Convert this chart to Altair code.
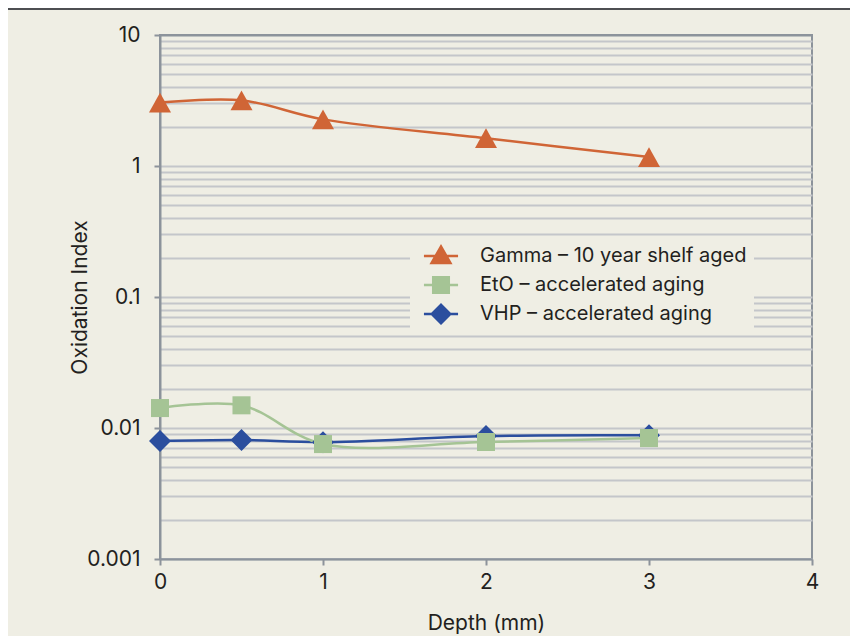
import altair as alt
import pandas as pd

depth = [0, 0.5, 1, 2, 3]
gamma = [3.05, 3.17, 2.27, 1.63, 1.17]
eto = [0.0142, 0.0149, 0.00754, 0.00782, 0.00838]
vhp = [0.00795, 0.0081, 0.0078, 0.00868, 0.0088]

series = ["Gamma – 10 year shelf aged", "EtO – accelerated aging", "VHP – accelerated aging"]
colors = ["#d06536", "#a5c495", "#2b4e9e"]

x_ticks = [0, 1, 2, 3, 4]
y_grid = [0.001, 0.002, 0.003, 0.004, 0.005, 0.006, 0.007, 0.008, 0.009,
          0.01, 0.02, 0.03, 0.04, 0.05, 0.06, 0.07, 0.08, 0.09,
          0.1, 0.2, 0.3, 0.4, 0.5, 0.6, 0.7, 0.8, 0.9,
          1, 2, 3, 4, 5, 6, 7, 8, 9, 10]

rows = []
for name, vals in [(series[2], vhp), (series[1], eto), (series[0], gamma)]:
    for d, v in zip(depth, vals):
        rows.append({"depth": d, "oi": v, "series": name})
df = pd.DataFrame(rows)

FONT = "Inter"
TEXT = "#231f20"
AXIS = "#8c939b"
GRID = "#c4c6ca"
BG = "#efeee4"

major = "abs(log(datum.value)/LN10 - round(log(datum.value)/LN10)) < 0.001"

x = alt.X("depth:Q",
          scale=alt.Scale(domain=[0, 4], nice=False, zero=False),
          axis=alt.Axis(values=x_ticks, format="d", grid=False, labelFlush=False,
                        title="Depth (mm)", titleY=53, titleBaseline="top",
                        labelPadding=6))
y = alt.Y("oi:Q",
          scale=alt.Scale(type="log", domain=[0.001, 10], nice=False),
          axis=alt.Axis(values=y_grid, grid=True, labelOverlap=False,
                        labelExpr=f"{major} ? format(datum.value, '~g') : ''",
                        tickOpacity={"condition": {"test": major, "value": 1}, "value": 0},
                        gridColor={"condition": {"test": "datum.value > 9.99", "value": AXIS}, "value": GRID},
                        labelPadding=14,
                        title="Oxidation Index", titleX=-74, titleBaseline="alphabetic"))

tri = "M0,-0.9L1,0.9L-1,0.9Z"
sq = "M-0.82,-0.82H0.82V0.82H-0.82Z"
dia = "M0,-1L1,0L0,1L-1,0Z"
marker_paths = [tri, sq, dia]

seg = "M-1.55,-0.11H1.55V0.11H-1.55Z "
leg_paths = [seg + "M0,-1.1L1.05,0.75L-1.05,0.75Z", seg + sq, seg + dia]

legend = alt.Legend(title=None, orient="none", legendX=250, legendY=203,
                    fillColor=BG, padding=7, rowPadding=8,
                    symbolSize=484, symbolOffset=13, labelOffset=28,
                    symbolStrokeWidth=0, symbolOpacity=1, labelLimit=0,
                    labelFont=FONT, labelFontSize=20, labelColor=TEXT)

lines = alt.Chart(df).mark_line(interpolate="catmull-rom", strokeWidth=2.5).encode(
    x=x, y=y,
    stroke=alt.Stroke("series:N", scale=alt.Scale(domain=series, range=colors), legend=None),
    detail="series:N")

points = alt.Chart(df).mark_point(filled=True, opacity=1, strokeWidth=0, size=484).encode(
    x=x, y=y,
    color=alt.Color("series:N", scale=alt.Scale(domain=series, range=colors), legend=None),
    shape=alt.Shape("series:N", scale=alt.Scale(domain=series, range=marker_paths), legend=None))

legend_layer = alt.Chart(df).transform_filter("false").mark_point(
    filled=True, strokeWidth=0, size=484).encode(
    x=x, y=y,
    color=alt.Color("series:N", scale=alt.Scale(domain=series, range=colors), legend=legend),
    shape=alt.Shape("series:N", scale=alt.Scale(domain=series, range=leg_paths), legend=legend))

topline = alt.Chart(pd.DataFrame({"k": [0]})).mark_rule(color="#4d4f52", strokeWidth=2).encode(
    x=alt.value(-152), x2=alt.value(690), y=alt.value(-26))

chart = alt.layer(lines, points, legend_layer, topline).resolve_scale(
    shape="independent", color="independent"
).properties(
    width=652, height=524,
    autosize=alt.AutoSizeParams(type="none"),
    padding={"left": 152, "top": 27, "right": 38, "bottom": 77},
    background=BG,
).configure_view(
    stroke=AXIS, strokeWidth=2
).configure_axis(
    domainColor=AXIS, domainWidth=2, tickColor=AXIS, tickWidth=2, tickSize=6,
    gridWidth=2, labelFont=FONT, labelFontSize=21, labelColor=TEXT,
    titleFont=FONT, titleFontSize=21, titleFontWeight="normal", titleColor=TEXT,
)

chart.save("out.html", embed_options={"renderer": "svg", "actions": False})
